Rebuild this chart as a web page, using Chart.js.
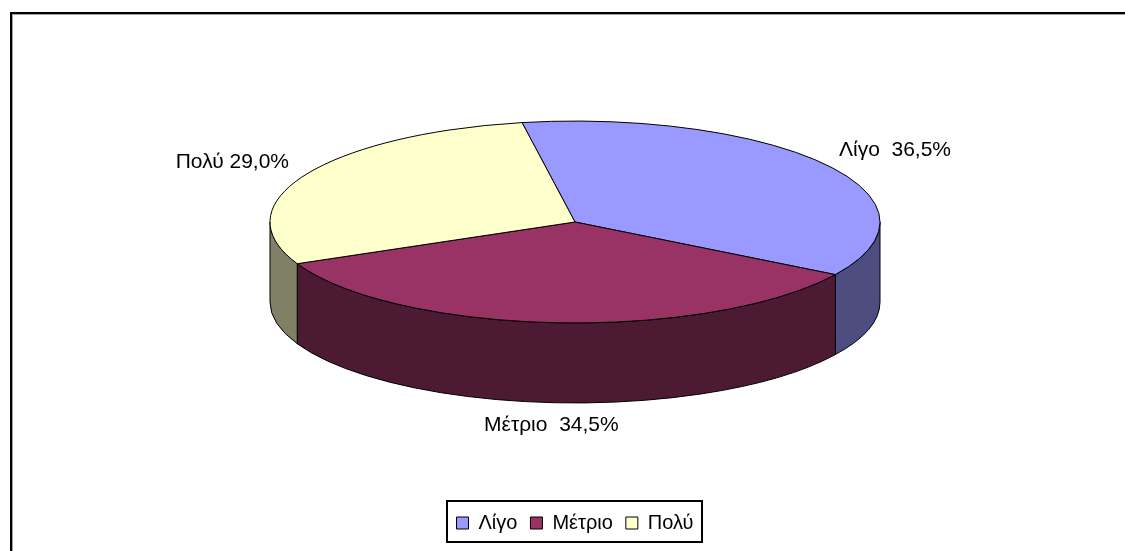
<!doctype html>
<html lang="el">
<head>
<meta charset="utf-8">
<title>Πίτα</title>
<script src="https://cdn.jsdelivr.net/npm/chart.js@4.4.0/dist/chart.umd.min.js"></script>
<style>
  html, body { margin: 0; padding: 0; background: #fff; overflow: hidden; }
  #frame {
    position: absolute; left: 10px; top: 12px; width: 1200px; height: 600px;
    border-left: 2px solid #000; border-top: 2px solid #000;
    box-shadow: inset 1px 1px 0 #a0a0a0;
  }
  /* canvas is pulled up so that the pie sits higher than the middle */
  #wrap { position: absolute; left: 0; top: -56px; width: 1125px; height: 607px; }
</style>
</head>
<body>
<div id="frame"></div>
<div id="wrap"><canvas id="pie"></canvas></div>

<script>
// data
var categories = ['Λίγο', 'Μέτριο', 'Πολύ'];
var percents = [36.5, 34.5, 29.0];

var topColors = ['#9999ff', '#993366', '#ffffcc'];
var TILT = 0.331;   // vertical squash of the top face
var DEPTH = 80;     // wall height in px
var FONT = "'Liberation Sans', Arial, sans-serif";

function shade(hex, f) {
    var n = parseInt(hex.slice(1), 16);
    var r = Math.round(((n >> 16) & 255) * f);
    var g = Math.round(((n >> 8) & 255) * f);
    var b = Math.round((n & 255) * f);
    return 'rgb(' + r + ',' + g + ',' + b + ')';
}

function pctText(v) {
    return v.toFixed(1).replace('.', ',') + '%';
}

// draws the pie as a tilted cylinder using the angles chart.js computed
var pie3d = {
    id: 'pie3d',
    beforeDatasetsDraw: function (chart) {
        var ctx = chart.ctx;
        var arcs = chart.getDatasetMeta(0).data;
        var cx = arcs[0].x, cy = arcs[0].y;
        var rx = arcs[0].outerRadius, ry = rx * TILT;
        ctx.save();
        ctx.lineWidth = 1;
        ctx.strokeStyle = '#000';
        ctx.lineJoin = 'round';

        // outer walls (only the front half is visible)
        arcs.forEach(function (arc, i) {
            for (var k = -1; k <= 1; k++) {
                var a = Math.max(arc.startAngle, k * 2 * Math.PI);
                var b = Math.min(arc.endAngle, k * 2 * Math.PI + Math.PI);
                if (b - a <= 0.0001) continue;
                ctx.beginPath();
                ctx.ellipse(cx, cy, rx, ry, 0, a, b);
                ctx.ellipse(cx, cy + DEPTH, rx, ry, 0, b, a, true);
                ctx.closePath();
                ctx.fillStyle = shade(topColors[i], 0.5);
                ctx.fill();
                ctx.stroke();
            }
        });

        // top faces
        arcs.forEach(function (arc, i) {
            ctx.beginPath();
            ctx.moveTo(cx, cy);
            ctx.ellipse(cx, cy, rx, ry, 0, arc.startAngle, arc.endAngle);
            ctx.closePath();
            ctx.fillStyle = topColors[i];
            ctx.fill();
            ctx.stroke();
        });

        // data labels
        ctx.fillStyle = '#000';
        ctx.font = '21px ' + FONT;
        ctx.textAlign = 'center';
        ctx.textBaseline = 'middle';
        arcs.forEach(function (arc, i) {
            var m = (arc.startAngle + arc.endAngle) / 2;
            var px = cx + rx * 1.27 * Math.cos(m);
            var py = cy + ry * 1.27 * Math.sin(m);
            if (Math.sin(m) > 0) py += DEPTH * Math.sin(m) - 5;
            var sep = i === categories.length - 1 ? ' ' : '  ';
            ctx.fillText(categories[i] + sep + pctText(percents[i]), px, py);
        });
        ctx.restore();
        return false;
    },
    afterDraw: function (chart) {
        var lg = chart.legend;
        if (!lg || !lg.legendHitBoxes.length) return;
        var hb = lg.legendHitBoxes;
        var l = hb[0].left, r = hb[0].left + hb[0].width;
        hb.forEach(function (h) {
            l = Math.min(l, h.left);
            r = Math.max(r, h.left + h.width);
        });
        var ctx = chart.ctx;
        ctx.save();
        ctx.strokeStyle = '#000';
        ctx.lineWidth = 2;
        ctx.strokeRect(Math.round(l) - 10, Math.round(lg.top) + 1, Math.round(r - l) + 18, Math.round(lg.height) - 2);
        ctx.restore();
    }
};

new Chart(document.getElementById('pie'), {
    type: 'pie',
    data: {
        labels: categories,
        datasets: [{
            data: percents,
            backgroundColor: topColors,
            borderColor: '#000',
            borderWidth: 1,
            radius: 305,
            rotation: -10
        }]
    },
    options: {
        responsive: true,
        maintainAspectRatio: false,
        animation: false,
        layout: { padding: { left: 25, right: 0, top: 0, bottom: 8 } },
        plugins: {
            tooltip: { enabled: false },
            legend: {
                position: 'bottom',
                labels: {
                    boxWidth: 12,
                    boxHeight: 12,
                    padding: 13,
                    color: '#000',
                    font: { family: FONT, size: 20 }
                }
            }
        }
    },
    plugins: [pie3d]
});
</script>
</body>
</html>
